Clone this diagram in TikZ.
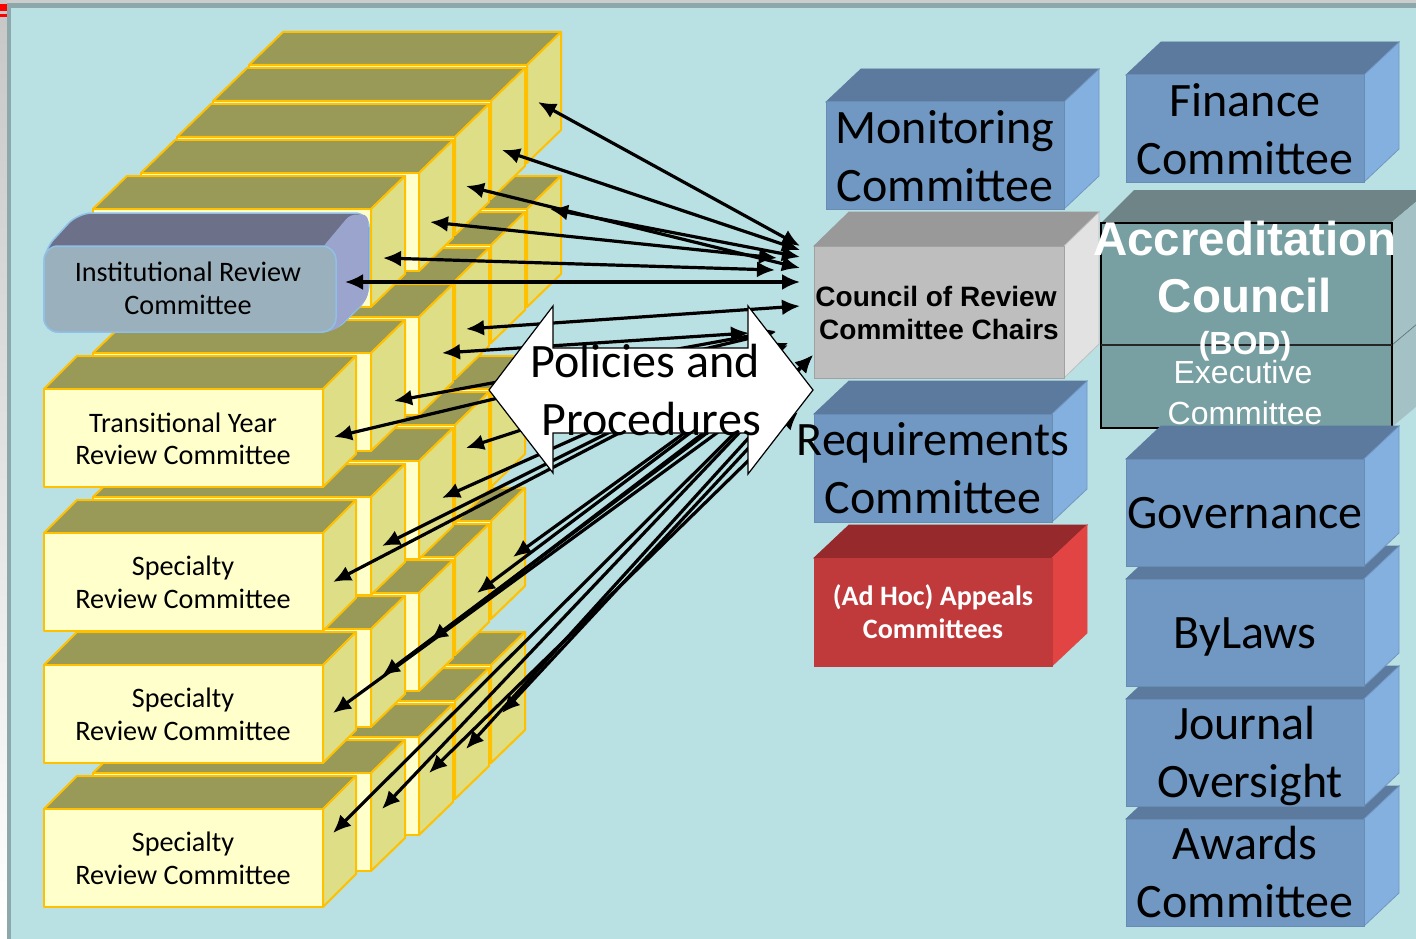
\documentclass[tikz,border=0pt]{standalone}
\usepackage{fontspec}
\setmainfont{Carlito}
\newfontfamily\libsans{Liberation Sans}
\usetikzlibrary{arrows.meta}
\definecolor{bgc}{HTML}{B9E0E2}
\definecolor{framec}{HTML}{8CA8AA}
\definecolor{ylfront}{HTML}{FFFFCC}
\definecolor{yltop}{HTML}{999958}
\definecolor{ylside}{HTML}{DEDE86}
\definecolor{ylstroke}{HTML}{FFC000}
\definecolor{blfront}{HTML}{7098C2}
\definecolor{bltop}{HTML}{5B7A9E}
\definecolor{blside}{HTML}{84B0DF}
\definecolor{blstroke}{HTML}{678DB5}
\definecolor{grfront}{HTML}{BEBEBE}
\definecolor{grtop}{HTML}{999999}
\definecolor{grside}{HTML}{E2E2E2}
\definecolor{rdfront}{HTML}{C0393B}
\definecolor{rdtop}{HTML}{95292B}
\definecolor{rdside}{HTML}{E24444}
\definecolor{tlfront}{HTML}{78A0A2}
\definecolor{tltop}{HTML}{6E8486}
\definecolor{tlside}{HTML}{A4C2C6}
\definecolor{infront}{HTML}{9AB0BC}
\definecolor{intop}{HTML}{6C7088}
\definecolor{inside}{HTML}{9AA4CC}
\definecolor{instroke}{HTML}{8FC0E8}
\tikzset{
  ylF/.style={fill=ylfront,draw=ylstroke,line width=2pt,line join=round},
  ylT/.style={fill=yltop,draw=ylstroke,line width=2pt,line join=round},
  ylS/.style={fill=ylside,draw=ylstroke,line width=2pt,line join=round},
  blF/.style={fill=blfront,draw=blstroke,line width=1pt},
  blT/.style={fill=bltop,draw=bltop,line width=.8pt},
  blS/.style={fill=blside,draw=blstroke!70!blside,line width=.8pt},
  grF/.style={fill=grfront,draw=grfront!85!black,line width=1pt},
  grT/.style={fill=grtop,draw=grtop,line width=.8pt},
  grS/.style={fill=grside,draw=grfront,line width=.8pt},
  rdF/.style={fill=rdfront,draw=rdfront,line width=1pt},
  rdT/.style={fill=rdtop,draw=rdtop,line width=.8pt},
  rdS/.style={fill=rdside,draw=rdside,line width=.8pt},
  small label/.style={anchor=base,font=\fontsize{28.2}{33}\selectfont,text=black,inner sep=0pt},
  big label/.style={anchor=base,font=\fontsize{48}{58}\selectfont,text=black,inner sep=0pt},
  arial label/.style={anchor=base,font=\libsans\bfseries\fontsize{28}{33}\selectfont,text=black,inner sep=0pt},
  red label/.style={anchor=base,font=\bfseries\fontsize{28.1}{33}\selectfont,text=white,inner sep=0pt},
  acc label/.style={anchor=base,font=\libsans\bfseries\fontsize{47.5}{58}\selectfont,text=white,inner sep=0pt},
  bod label/.style={anchor=base,font=\libsans\bfseries\fontsize{32}{36}\selectfont,text=white,inner sep=0pt},
  exec label/.style={anchor=base,font=\libsans\fontsize{32}{40}\selectfont,text=white,inner sep=0pt},
  link/.style={black,line width=3.2pt,{Latex[length=18pt,width=16pt]}-{Latex[length=18pt,width=16pt]}},
}
% x, y, w, h, dx, dy, style prefix
\newcommand\cubebox[7]{%
  \draw[#7T] (#1,#2) -- ++(#5,-#6) -- ++(#3,0) -- ++(-#5,#6) -- cycle;
  \draw[#7S] (#1,#2) ++(#3,0) -- ++(#5,-#6) -- ++(0,#4) -- ++(-#5,#6) -- cycle;
  \draw[#7F] (#1,#2) rectangle ++(#3,#4);
}
\newcommand\ylbox[2]{\cubebox{#1}{#2}{278}{98}{34}{33}{yl}}
\begin{document}
\begin{tikzpicture}[x=1pt,y=-1pt]
\useasboundingbox (0,0) rectangle (1416,939);
\clip (0,0) rectangle (1416,939);
% window frame
\fill[white] (0,0) rectangle (1416,939);
\fill[black!20] (0,0) rectangle (1416,3);
\shade[top color=black!22,bottom color=white] (0,0) rectangle (7,939);
\fill[framec] (7,3) rectangle (1416,939);
\fill[bgc] (11,8) rectangle (1416,939);
\fill[red] (0,4) rectangle (7,11);
\fill[red] (0,14) rectangle (7,17);
% stack S3
\ylbox{213}{665}\ylbox{177}{701}\ylbox{141}{737}\ylbox{93}{773}
\cubebox{44}{809}{279}{98}{33}{33}{yl}
% stack S2
\ylbox{213}{521}\ylbox{177}{557}\ylbox{141}{593}\ylbox{93}{629}
\cubebox{44}{665}{279}{98}{33}{33}{yl}
% stack S1
\ylbox{213}{389}\ylbox{177}{425}\ylbox{141}{461}\ylbox{93}{497}
\cubebox{44}{533}{279}{98}{33}{33}{yl}
% stack T
\ylbox{249}{209}\ylbox{213}{245}\ylbox{177}{281}\ylbox{141}{317}\ylbox{93}{353}
\cubebox{44}{389}{279}{98}{33}{33}{yl}
% stack I
\ylbox{249}{65}\ylbox{213}{101}\ylbox{177}{137}\ylbox{141}{173}\ylbox{93}{209}
% institutional box
\draw[fill=intop,draw=instroke,line width=1.5pt,rounded corners=14pt]
  (44,250) -- (78,213) -- (369,213) -- (369,298) -- (334,332) -- (44,332) -- cycle;
\fill[inside,rounded corners=6pt] (322,248) -- (350,214.5) -- (368,214.5) -- (368,298) -- (334,331) -- (322,331) -- cycle;
\draw[fill=infront,draw=instroke,line width=1.5pt,rounded corners=14pt] (44,246) rectangle (336,332);
% right-hand boxes behind the arrows
\cubebox{826}{102}{238}{107}{35}{33}{bl}
\cubebox{1126}{75}{238}{107}{35}{33}{bl}
\cubebox{814}{246}{250}{132}{35}{34}{gr}
\cubebox{814}{414}{238}{108}{35}{33}{bl}
\cubebox{814}{558}{238}{108}{35}{33}{rd}
% accreditation council
\fill[tltop] (1102,222) -- (1134,190) -- (1430,190) -- (1392,222) -- cycle;
\fill[tlside] (1392,222) -- (1430,190) -- (1430,395) -- (1392,427) -- cycle;
\draw[black!40!tlside,line width=.7pt] (1392,345) -- (1430,313);
\draw[fill=tlfront,draw=black,line width=2pt] (1101,223) rectangle (1392,428);
\draw[black!85,line width=1.6pt] (1101,345) -- (1392,345);
% lower column, painted bottom up
\cubebox{1126}{819}{238}{107}{35}{33}{bl}
\cubebox{1126}{699}{238}{107}{35}{33}{bl}
\cubebox{1126}{579}{238}{107}{35}{33}{bl}
\cubebox{1126}{459}{238}{107}{35}{33}{bl}
% connector ends
\coordinate (l1) at (538,102);  \coordinate (r1) at (800,246);
\coordinate (l2) at (502,150);  \coordinate (r2) at (800,250);
\coordinate (l3) at (466,186);  \coordinate (r3) at (800,268);
\coordinate (l4) at (550,209);  \coordinate (r4) at (800,257);
\coordinate (l5) at (430,222);  \coordinate (r5) at (777,258);
\coordinate (l6) at (383,258);  \coordinate (r6) at (775,270);
\coordinate (l7) at (345,282);  \coordinate (r7) at (800,282);
\coordinate (l8) at (466,329);  \coordinate (r8) at (800,306);
\coordinate (l9) at (442,353);  \coordinate (r9) at (749,333);
\coordinate (l10) at (394,401); \coordinate (r10) at (776,331);
\coordinate (l11) at (334,437); \coordinate (r11) at (776,332);
\coordinate (l12) at (466,448); \coordinate (r12) at (788,343);
\coordinate (l13) at (442,498); \coordinate (r13) at (788,343);
\coordinate (l14) at (382,546); \coordinate (r14) at (788,343);
\coordinate (l15) at (333,582); \coordinate (r15) at (788,345);
\coordinate (l16) at (513,557); \coordinate (r16) at (730,400);
\coordinate (l17) at (477,593); \coordinate (r17) at (734,400);
\coordinate (l18) at (430,641); \coordinate (r18) at (747,400);
\coordinate (l19) at (382,676); \coordinate (r19) at (751,400);
\coordinate (l20) at (333,713); \coordinate (r20) at (762,400);
\coordinate (l21) at (502,713); \coordinate (r21) at (784,410);
\coordinate (l22) at (466,749); \coordinate (r22) at (774,410);
\coordinate (l23) at (429,773); \coordinate (r23) at (798,412);
\coordinate (l24) at (382,809); \coordinate (r24) at (813,355);
\coordinate (l25) at (333,833); \coordinate (r25) at (813,355);
\foreach \i in {1,...,25}{\draw[link] (l\i) -- (r\i);}
% double arrow
\draw[fill=white,draw=black,line width=1.2pt,line join=miter]
  (489,390) -- (553,306) -- (553,348) -- (748,348) -- (748,306) -- (813,390)
  -- (748,474) -- (748,433) -- (553,433) -- (553,473) -- cycle;
% labels
\node[small label] (inst1) at (188,281) {Institutional Review};
\node[small label] (inst2) at (188,314) {Committee};
\node[small label] (tr1) at (183,432) {Transitional Year};
\node[small label] (tr2) at (183,464) {Review Committee};
\node[small label] (sa1) at (183,575) {Specialty};
\node[small label] (sa2) at (183,608) {Review Committee};
\node[small label] (sb1) at (183,707) {Specialty};
\node[small label] (sb2) at (183,740) {Review Committee};
\node[small label] (sc1) at (183,851) {Specialty};
\node[small label] (sc2) at (183,884) {Review Committee};
\node[big label] (mon1) at (945,144) {Monitoring};
\node[big label] (mon2) at (945,201.5) {Committee};
\node[big label] (fin1) at (1245,117) {Finance};
\node[big label] (fin2) at (1245,174.5) {Committee};
\node[big label] (req1) at (933,455.5) {Requirements};
\node[big label] (req2) at (933,513.5) {Committee};
\node[big label] (gov) at (1245,528.5) {Governance};
\node[big label] (byl) at (1245,648.5) {ByLaws};
\node[big label] (jou1) at (1245,739.5) {Journal};
\node[big label] (jou2) at (1250,797.5) {Oversight};
\node[big label] (awa1) at (1245,859.5) {Awards};
\node[big label] (awa2) at (1245,917.5) {Committee};
\node[arial label] (cou1) at (936,306) {Council of Review};
\node[arial label] (cou2) at (939,339) {Committee Chairs};
\node[red label] (app1) at (933,605) {(Ad Hoc) Appeals};
\node[red label] (app2) at (933,638) {Committees};
\node[acc label] (acc1) at (1245,255) {Accreditation};
\node[acc label] (acc2) at (1245,312) {Council};
\node[bod label] (bod) at (1245,354) {(BOD)};
\node[exec label] (exe1) at (1243,383) {Executive};
\node[exec label] (exe2) at (1245,424) {Committee};
\node[big label] (pol1) at (645,377) {Policies and};
\node[big label] (pol2) at (651,435) {Procedures};
\end{tikzpicture}
\end{document}
